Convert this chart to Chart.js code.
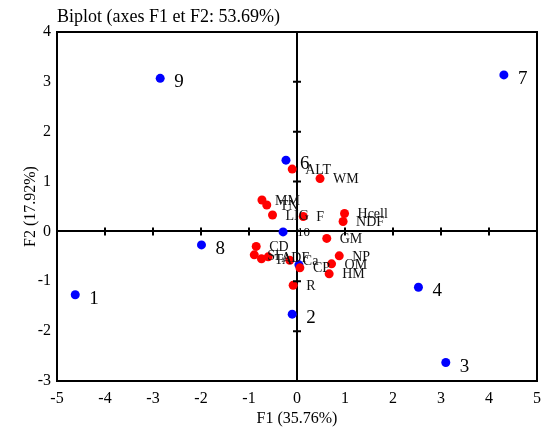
<!DOCTYPE html>
<html>
<head>
<meta charset="utf-8">
<script src="https://cdn.jsdelivr.net/npm/chart.js@4"></script>
<style>
  html, body { margin: 0; padding: 0; background: #fff; }
</style>
</head>
<body>
<canvas id="biplot" width="544" height="435"></canvas>
<script>
// Variables (red) - coordinates on F1 / F2
const varLabels = ['ALT', 'WM', 'MM', 'TN', 'LIG', 'F', 'Hcell', 'NDF', 'GM', 'CD', 'SL', 'TA', 'ADF', 'Ca', 'CP', 'NP', 'OM', 'HM', 'R'];
const varF1 = [-0.10, 0.48, -0.73, -0.63, -0.51, 0.13, 0.99, 0.96, 0.62, -0.85, -0.89, -0.74, -0.60, -0.15, 0.06, 0.88, 0.72, 0.67, -0.08];
const varF2 = [1.25, 1.06, 0.63, 0.53, 0.33, 0.30, 0.36, 0.20, -0.14, -0.30, -0.47, -0.55, -0.51, -0.58, -0.73, -0.49, -0.65, -0.85, -1.08];

// Observations (blue) - label of 5 is hidden under the variable labels in the original
const obsLabels = ['1', '2', '3', '4', '', '6', '7', '8', '9', '10'];
const obsF1 = [-4.62, -0.10, 3.10, 2.53, 0.04, -0.23, 4.31, -1.99, -2.85, -0.29];
const obsF2 = [-1.27, -1.66, -2.63, -1.12, -0.67, 1.43, 3.14, -0.27, 3.07, -0.01];

// Axis ranges / tick values
const xTicks = [-5, -4, -3, -2, -1, 0, 1, 2, 3, 4, 5];
const yTicks = [-3, -2, -1, 0, 1, 2, 3, 4];

const serif = '"Liberation Serif", "DejaVu Serif", serif';

// Draws the frame, the tick marks on the zero axes and the point labels
const biplotDecor = {
    id: 'biplotDecor',
    afterDatasetsDraw(chart) {
        const { ctx, chartArea: a, scales: { x, y } } = chart;
        const x0 = x.getPixelForValue(0);
        const y0 = y.getPixelForValue(0);
        ctx.save();
        ctx.strokeStyle = '#000';
        ctx.lineWidth = 2;
        ctx.strokeRect(a.left, a.top, a.right - a.left, a.bottom - a.top);

        // small tick marks across the zero axes
        ctx.beginPath();
        xTicks.forEach(v => {
            if (v === 0 || v === xTicks[0] || v === xTicks[xTicks.length - 1]) return;
            const px = x.getPixelForValue(v);
            ctx.moveTo(px, y0 - 4);
            ctx.lineTo(px, y0 + 4);
        });
        yTicks.forEach(v => {
            if (v === 0 || v === yTicks[0] || v === yTicks[yTicks.length - 1]) return;
            const py = y.getPixelForValue(v);
            ctx.moveTo(x0 - 4, py);
            ctx.lineTo(x0 + 4, py);
        });
        ctx.stroke();

        ctx.textBaseline = 'middle';
        ctx.textAlign = 'left';

        // variable labels
        ctx.fillStyle = '#111';
        ctx.font = '14px ' + serif;
        varLabels.forEach((lab, i) => {
            ctx.fillText(lab, x.getPixelForValue(varF1[i]) + 13, y.getPixelForValue(varF2[i]) + 1);
        });

        // observation labels
        ctx.fillStyle = '#000';
        obsLabels.forEach((lab, i) => {
            if (!lab) return;
            ctx.font = (lab === '10' ? '13px ' : '19px ') + serif;
            const dy = lab === '10' ? 1 : 4;
            ctx.fillText(lab, x.getPixelForValue(obsF1[i]) + 14, y.getPixelForValue(obsF2[i]) + dy);
        });
        ctx.restore();
    }
};

const zeroLine = c => (c.tick && c.tick.value === 0) ? '#000' : 'rgba(0,0,0,0)';

new Chart(document.getElementById('biplot'), {
    type: 'scatter',
    data: {
        datasets: [
            {
                label: 'Variables',
                data: varF1.map((v, i) => ({ x: v, y: varF2[i] })),
                backgroundColor: '#ff0000',
                borderWidth: 0,
                pointRadius: 4.5
            },
            {
                label: 'Observations',
                data: obsF1.map((v, i) => ({ x: v, y: obsF2[i] })),
                backgroundColor: '#0000ff',
                borderWidth: 0,
                pointRadius: 4.5
            }
        ]
    },
    options: {
        responsive: false,
        animation: false,
        events: [],
        layout: { padding: { top: 0, right: 7, bottom: 0, left: 0 } },
        plugins: {
            legend: { display: false },
            tooltip: { enabled: false },
            title: {
                display: true,
                text: 'Biplot (axes F1 et F2: 53.69%)',
                align: 'start',
                fullSize: false,
                color: '#000',
                font: { family: serif, size: 18, weight: 'normal' },
                padding: { top: 6, bottom: 4.4 }
            }
        },
        scales: {
            x: {
                type: 'linear',
                min: -5,
                max: 5,
                afterBuildTicks: s => { s.ticks = xTicks.map(v => ({ value: v })); },
                afterFit: s => { s.height = 54; },
                // invisible tick marks push the labels down without widening the side padding
                grid: { color: zeroLine, lineWidth: 2, drawTicks: true, tickLength: 6, tickColor: 'rgba(0,0,0,0)' },
                border: { display: false },
                ticks: { color: '#000', padding: 2, font: { family: serif, size: 16 }, maxRotation: 0 },
                title: {
                    display: true,
                    text: 'F1 (35.76%)',
                    color: '#000',
                    font: { family: serif, size: 16 },
                    padding: { top: 0, bottom: 7 }
                }
            },
            y: {
                type: 'linear',
                min: -3,
                max: 4,
                afterBuildTicks: s => { s.ticks = yTicks.map(v => ({ value: v })); },
                afterFit: s => { s.width = 57; },
                grid: { color: zeroLine, lineWidth: 2, drawTicks: false },
                border: { display: false },
                ticks: { color: '#000', padding: 6, font: { family: serif, size: 16 } },
                title: {
                    display: true,
                    text: 'F2 (17.92%)',
                    color: '#000',
                    font: { family: serif, size: 16 },
                    padding: { top: 21, bottom: 0 }
                }
            }
        }
    },
    plugins: [biplotDecor]
});
</script>
</body>
</html>
